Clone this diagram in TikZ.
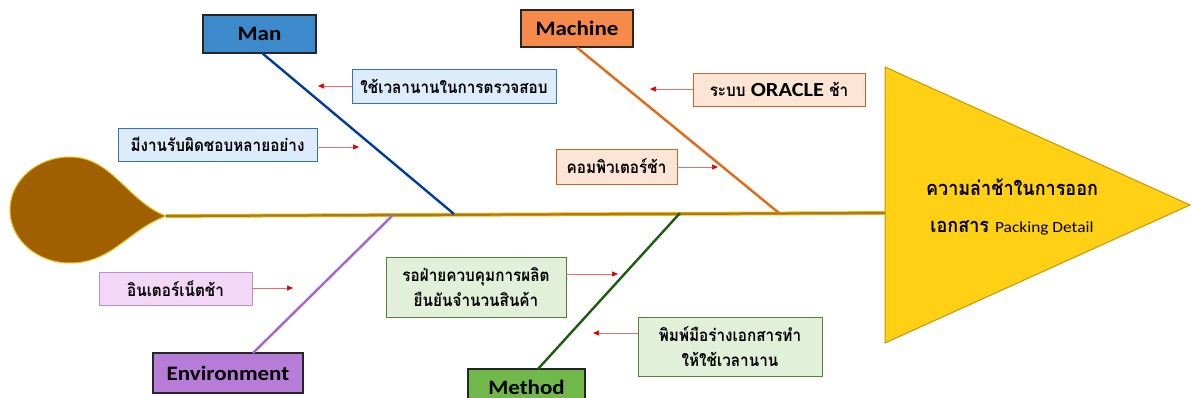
\documentclass[tikz,border=0pt]{standalone}
\usepackage{fontspec}
\setmainfont{Carlito}[FakeStretch=1.12]
\newfontfamily\thai{Loma}[Script=Thai, FakeStretch=0.9]
\usetikzlibrary{arrows.meta}

\definecolor{dropfill}{RGB}{160,96,0}
\definecolor{dropedge}{RGB}{230,190,20}
\definecolor{spinecol}{RGB}{176,120,20}
\definecolor{headfill}{RGB}{255,208,20}
\definecolor{headedge}{RGB}{200,150,0}
\definecolor{manfill}{RGB}{60,138,204}
\definecolor{manline}{RGB}{0,60,160}
\definecolor{machfill}{RGB}{245,138,74}
\definecolor{machline}{RGB}{226,106,20}
\definecolor{envfill}{RGB}{182,124,216}
\definecolor{envline}{RGB}{168,100,210}
\definecolor{methfill}{RGB}{112,184,74}
\definecolor{methline}{RGB}{30,92,18}
\definecolor{bluebg}{RGB}{221,236,250}
\definecolor{blueedge}{RGB}{46,117,182}
\definecolor{orgbg}{RGB}{252,229,212}
\definecolor{orgedge}{RGB}{200,100,40}
\definecolor{purbg}{RGB}{242,216,246}
\definecolor{puredge}{RGB}{190,140,210}
\definecolor{grnbg}{RGB}{226,240,217}
\definecolor{grnedge}{RGB}{84,130,53}
\definecolor{arrline}{RGB}{230,110,110}
\definecolor{arrtip}{RGB}{220,0,0}

\begin{document}
\begin{tikzpicture}[x=1pt,y=-1pt,
  catbox/.style={draw=black!85, line width=1.2pt, inner sep=0pt,
    font=\bfseries\fontsize{20.5}{24}\selectfont},
  causebox/.style={draw, line width=0.9pt, inner sep=0pt, align=center,
    font=\thai\bfseries\fontsize{17}{25}\selectfont},
  bone/.style={line width=2.4pt},
  pointer/.style={draw=arrline, line width=0.7pt,
    -{Triangle[length=6pt,width=5pt,fill=arrtip,color=arrtip]}},
  headtext/.style={font=\thai\bfseries\fontsize{20}{22}\selectfont, inner sep=0pt}
]
\clip (0,0) rectangle (1192,398);
\fill[white] (0,0) rectangle (1192,398);

% tail of the fish
\filldraw[fill=dropfill, draw=dropedge, line width=1pt]
  (166,216) .. controls (128,202) and (112,157) .. (70,157)
  arc[start angle=270, end angle=90, x radius=60, y radius=53]
  .. controls (112,263) and (128,230) .. (166,216) -- cycle;

% head of the fish
\filldraw[fill=headfill, draw=headedge, line width=1pt]
  (885,67) -- (1190,205) -- (885,343) -- cycle;
\node[headtext] (head1) at (1012,187) {ความล่าช้าในการออก};
\node[headtext] (head2) at (1012,228) {เอกสาร \normalfont\fontsize{15.5}{18}\selectfont Packing Detail};

% spine
\coordinate (tailpt) at (166,216);
\coordinate (headpt) at (885,213);
\draw[dropedge, line width=3.8pt] (tailpt) -- (headpt);
\draw[spinecol, line width=2.2pt] (tailpt) -- (headpt);

% joints of the bones on the spine
\coordinate (man-j)  at (454,214);
\coordinate (mach-j) at (779,213);
\coordinate (env-j)  at (393,215);
\coordinate (meth-j) at (680,213);
\coordinate (man-r)  at (262,53);
\coordinate (env-r)  at (253,353);
\coordinate (meth-r) at (538,369);

% category boxes
\node[catbox, fill=manfill, minimum width=113pt, minimum height=38pt] (man) at (259.5,34) {Man};
\node[catbox, fill=machfill, minimum width=112pt, minimum height=37pt] (mach) at (577,28.5) {Machine};
\node[catbox, fill=envfill, minimum width=150pt, minimum height=40pt] (env) at (228,373) {Environment};
\node[catbox, fill=methfill, minimum width=117pt, minimum height=36pt] (meth) at (526.5,387) {Method};

% bones
\draw[bone, manline] (man-r) -- (man-j);
\draw[bone, machline] (mach.south) -- (mach-j);
\draw[bone, envline] (env-r) -- (env-j);
\draw[bone, methline] (meth-r) -- (meth-j);

% causes
\node[causebox, fill=bluebg, draw=blueedge, minimum width=204pt, minimum height=34pt] (c1) at (454,86) {ใช้เวลานานในการตรวจสอบ};
\node[causebox, fill=bluebg, draw=blueedge, minimum width=199pt, minimum height=33pt] (c2) at (217.5,144.5) {มีงานรับผิดชอบหลายอย่าง};
\node[causebox, fill=orgbg, draw=orgedge, minimum width=172pt, minimum height=33pt] (c3) at (779,89.5)
  {ระบบ {\normalfont\bfseries\fontsize{20}{24}\selectfont ORACLE} ช้า};
\node[causebox, fill=orgbg, draw=orgedge, minimum width=121pt, minimum height=35pt] (c4) at (616.5,166.5) {คอมพิวเตอร์ช้า};
\node[causebox, fill=purbg, draw=puredge, minimum width=153pt, minimum height=33pt] (c5) at (175.5,288.5) {อินเตอร์เน็ตช้า};
\node[causebox, fill=grnbg, draw=grnedge, minimum width=180pt, minimum height=60pt] (c6) at (476,287) {รอฝ่ายควบคุมการผลิต\\ยืนยันจำนวนสินค้า};
\node[causebox, fill=grnbg, draw=grnedge, minimum width=184pt, minimum height=59pt] (c7) at (730,346.5) {พิมพ์มือร่างเอกสารทำ\\ให้ใช้เวลานาน};

% pointers from causes to bones
\coordinate (t1) at (318,86);
\coordinate (t2) at (359,147);
\coordinate (t3) at (650,89);
\coordinate (t4) at (718,167);
\coordinate (t5) at (293,288);
\coordinate (t6) at (618,274);
\coordinate (t7) at (593,333);
\draw[pointer] (c1.west |- t1) -- (t1);
\draw[pointer] (c2.east |- t2) -- (t2);
\draw[pointer] (c3.west |- t3) -- (t3);
\draw[pointer] (c4.east |- t4) -- (t4);
\draw[pointer] (c5.east |- t5) -- (t5);
\draw[pointer] (c6.east |- t6) -- (t6);
\draw[pointer] (c7.west |- t7) -- (t7);
\end{tikzpicture}
\end{document}
